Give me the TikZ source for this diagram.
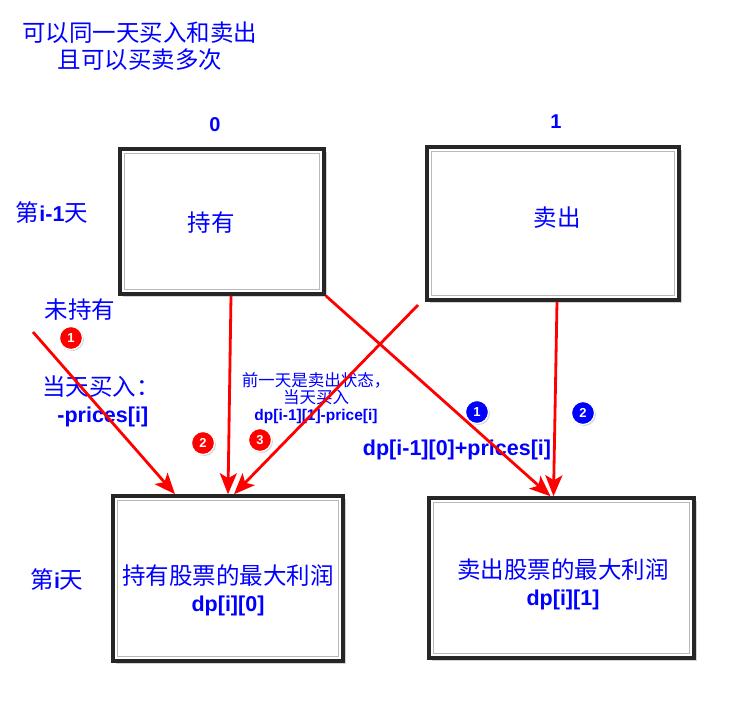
\documentclass[tikz,border=0pt]{standalone}
\usepackage{fontspec}
\setmainfont{Liberation Sans}
\newfontfamily\cjk{Noto Sans CJK SC}
\usetikzlibrary{arrows.meta, positioning, calc, shadows}
\newcommand{\lat}[1]{{\rmfamily\bfseries\fontsize{21.5}{27}\selectfont #1}}

\begin{document}
\begin{tikzpicture}[
    x=1pt, y=-1pt,
    box/.style={draw=black!85, line width=3.5pt, fill=white, drop shadow={shadow xshift=3pt, shadow yshift=-3pt, opacity=0.35}},
    lbl/.style={text=blue, font=\cjk\fontsize{23.5}{27}\selectfont, align=center, inner sep=1pt},
    small/.style={text=blue, font=\cjk\fontsize{16.5}{17}\selectfont, align=center, inner sep=1pt},
    code/.style={text=blue, font=\bfseries\fontsize{20}{24}\selectfont, inner sep=1pt},
    badge/.style={circle, fill=#1, draw=white, line width=1.2pt, text=white, font=\bfseries\fontsize{13}{13}\selectfont, inner sep=0pt, minimum size=23pt, drop shadow={shadow xshift=1.5pt, shadow yshift=-1.5pt, opacity=0.3}},
    arr/.style={-{Stealth[length=21pt, width=17pt, inset=5pt]}, red, line width=2.8pt}
]
\useasboundingbox (0,0) rectangle (731,702);

% boxes
\node[box, minimum width=204pt, minimum height=145pt] (hold) at (222,221.5) {};
\node[box, minimum width=252pt, minimum height=153pt] (sell) at (553,223.5) {};
\node[box, minimum width=230pt, minimum height=165pt] (holdmax) at (228,578.5) {};
\node[box, minimum width=265pt, minimum height=160pt] (sellmax) at (561.5,578) {};
\foreach \n in {hold, sell, holdmax, sellmax}
    \draw[gray!55, line width=1.2pt] ($(\n.north west)+(6,6)$) rectangle ($(\n.south east)+(-6,-6)$);

% texts
\node[lbl] (title) at (140,46.5) {可以同一天买入和卖出\\且可以买卖多次};
\node[code] (col0) at (215,125) {0};
\node[code] (col1) at (556,122) {1};
\node[lbl] (prevday) at (52,213) {第\lat{i-1}天};
\node[lbl] (today) at (57,580) {第\lat{i}天};
\node[lbl] at ($(hold)+(-11,1.5)$) {持有};
\node[lbl] at ($(sell)+(4,-5.5)$) {卖出};
\node[lbl] (holdtxt) at (228,590) {持有股票的最大利润\\\lat{dp[i][0]}};
\node[lbl] (selltxt) at (563,584) {卖出股票的最大利润\\\lat{dp[i][1]}};
\node[lbl] (nohold) at (80,310) {未持有};
\node[lbl] (buytxt) at (101,401) {当天买入：\\\lat{\,-prices[i]}};
\node[small] (prevsell) at (316,398) {前一天是卖出状态，\\当天买入\\{\rmfamily\bfseries\fontsize{15.5}{17}\selectfont dp[i-1][1]-price[i]}};
\node[code, font=\bfseries\fontsize{21.5}{24}\selectfont] (selltoday) at (457,450) {dp[i-1][0]+prices[i]};

% badges
\node[badge=red] (r1) at (71,338) {1};
\node[badge=red] (r2) at (203,443) {2};
\node[badge=red] (r3) at (260,440) {3};
\node[badge=blue] (b1) at (477,412) {1};
\node[badge=blue] (b2) at (583,413) {2};

% arrows
\coordinate (buystart) at (33,332);
\coordinate (prevstart) at (418,305);
\draw[arr] (buystart) -- ($(holdmax.north)+(-53,0)$);
\draw[arr] ($(hold.south)+(9,0)$) -- (holdmax.north);
\draw[arr] (prevstart) -- ($(holdmax.north)+(6,0)$);
\draw[arr] (hold.south east) -- ($(sellmax.north)+(-11,0)$);
\draw[arr] ($(sell.south)+(4,0)$) -- ($(sellmax.north)+(-8,0)$);
\end{tikzpicture}
\end{document}
